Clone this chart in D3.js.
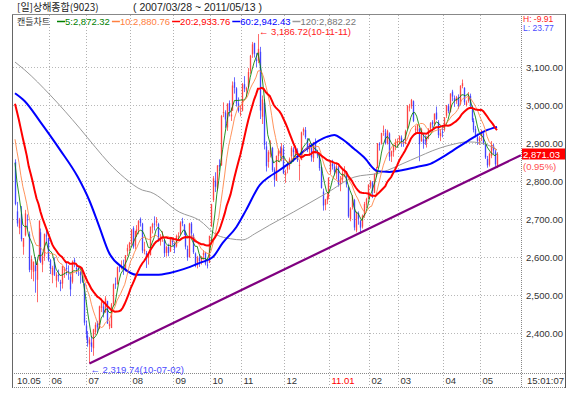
<!DOCTYPE html>
<html><head><meta charset="utf-8">
<script src="https://cdn.jsdelivr.net/npm/d3@7"></script>
<style>
body{margin:0;background:#fff}
svg{display:block}
text{font-family:"Liberation Sans",Arial,sans-serif}
.kr{font-family:"Noto Sans CJK KR","Liberation Sans",sans-serif}
</style>
</head><body>
<svg id="c" width="580" height="401"></svg>
<script>
// ---------- DATA (daily candles 2010-05-06 .. 2011-05-13) ----------
const open = [
2850,2720,2676,2714,2627,2657,2699,2660,2566,2561,2578,2540,2593,2665,2580,2602,2657,2650,
2592,2552,2587,2538,2553,2534,2530,2565,2571,2563,2548,2535,2592,2571,2570,2560,2553,2530,2420,
2393,2370,2375,2360,2402,2427,2412,2466,2470,2455,2484,2418,2413,2476,2530,2529,2575,2574,2575,2567,2615,2624,
2637,2676,2630,2666,2670,2700,2688,2615,2610,2598,2605,2678,2688,2690,2687,2640,2650,2645,2611,2626,2615,2647,
2635,2628,2655,2660,2694,2685,2665,2621,2600,2688,2657,2609,2580,2598,2590,2605,2610,2580,2585,
2680,2750,2801,2780,2842,2841,2979,2980,2941,3005,2970,2985,3060,3044,3004,2977,
2985,3055,3038,3047,3090,3133,3163,3120,3117,3140,2969,3006,2891,2850,2870,2887,2830,2800,2866,2878,2866,2885,
2815,2830,2840,2865,2883,2867,2880,2840,2855,2930,2934,2910,2882,2897,2860,2902,2876,2868,2836,2772,2737,2750,2757,
2825,2845,2838,2820,2835,2790,2804,2822,2825,2785,2700,2731,2750,2670,2715,2694,2680,2708,2738,2753,
2786,2796,2769,2815,2834,2897,2898,2929,2927,2899,2925,2865,2876,2890,2900,
2908,2914,2902,2897,2939,2995,2997,3010,2935,2930,2937,2905,2910,2909,2904,2915,2938,2955,2950,2980,2955,2918,2930,
2935,2972,2997,2982,3035,3018,3010,3021,3003,3050,3045,3000,3010,3024,2995,2958,2937,2915,2905,
2920,2925,2896,2858,2843,2866,2893,2878,2838];
const high = [
2857,2745,2703,2734,2650,2724,2712,2667,2604,2588,2600,2590,2696,2675,2612,2662,2672,2651,
2595,2577,2599,2560,2567,2540,2576,2574,2586,2578,2557,2591,2598,2583,2576,2563,2570,2531,2433,
2405,2389,2392,2411,2428,2432,2472,2491,2480,2497,2485,2433,2479,2530,2546,2575,2581,2591,2593,2605,2633,2640,
2673,2681,2669,2684,2697,2704,2690,2640,2616,2610,2680,2690,2707,2705,2690,2660,2668,2646,2630,2635,2653,2650,
2641,2659,2665,2694,2703,2687,2670,2630,2690,2692,2662,2612,2603,2607,2602,2618,2614,2590,2656,
2740,2813,2823,2842,2857,2974,3007,2986,3004,3012,2993,3062,3073,3047,3020,2999,
3058,3076,3048,3097,3132,3166,3164,3137,3186.72,3153,3025,3015,2904,2881,2907,2890,2836,2867,2885,2891,2900,2895,
2830,2850,2862,2892,2889,2893,2886,2856,2930,2941,2942,2913,2900,2900,2903,2912,2882,2870,2837,2780,2753,2770,2810,
2853,2856,2845,2847,2840,2813,2829,2839,2826,2786,2731,2763,2753,2720,2720,2698,2712,2745,2756,2791,
2802,2800,2820,2837,2900,2902,2927,2946,2937,2935,2928,2880,2893,2911,2912,
2920,2920,2910,2935,3000,3003,3016,3012,2945,2950,2940,2940,2925,2920,2918,2938,2955,2960,2978,2996,2960,2937,2947,
2968,3000,3003,3031,3040,3025,3024,3028,3052,3067,3047,3012,3034,3030,2998,2965,2945,2925,2918,
2935,2927,2898,2866,2875,2905,2898,2882,2876];
const low = [
2736,2680,2660,2641,2606,2654,2673,2560,2542,2536,2506,2481,2590,2584,2560,2590,2640,2588,
2555,2531,2550,2520,2535,2510,2517,2545,2552,2540,2497,2530,2573,2555,2550,2530,2532,2420,2385,
2364,2319.74,2350,2340,2395,2400,2410,2455,2441,2453,2424,2410,2413,2470,2516,2527,2560,2567,2553,2562,2602,2616,
2630,2622,2620,2653,2660,2680,2610,2607,2571,2580,2604,2662,2670,2680,2640,2630,2640,2600,2601,2602,2613,2630,
2610,2625,2645,2658,2681,2658,2620,2590,2598,2650,2608,2573,2570,2574,2580,2593,2578,2570,2584,
2680,2745,2771,2775,2826,2840,2968,2940,2932,2970,2958,2985,3030,2996,2980,2970,
2983,3034,3020,3045,3082,3124,3125,3100,3110,2963,2950,2883,2825,2835,2862,2824,2785,2800,2850,2860,2852,2818,
2795,2820,2830,2850,2850,2860,2850,2801,2855,2920,2910,2876,2866,2851,2850,2873,2860,2827,2780,2722,2723,2739,2752,
2818,2830,2815,2805,2785,2773,2796,2810,2783,2703,2694,2725,2670,2665,2685,2661,2675,2703,2729,2752,
2780,2755,2768,2810,2834,2880,2896,2919,2896,2896,2853,2850,2864,2881,2890,
2896,2890,2890,2897,2936,2983,2990,2955,2921,2925,2852,2903,2885,2895,2888,2910,2930,2940,2945,2960,2913,2905,2915,
2930,2966,2978,2980,3010,2995,3003,2990,3000,3044,3000,2996,3006,2993,2955,2928,2915,2895,2895,
2905,2895,2858,2835,2838,2860,2870,2838,2834];
const close = [
2739.7,2688.4,2698.7,2647.1,2650.0,2714.7,2696.6,2566.2,2594.2,2587.8,2563.0,2583.5,2695.7,2586.8,2602.0,2660.5,2655.8,2592.2,
2568.6,2571.4,2553.6,2553.6,2549.7,2528.9,2575.9,2568.7,2569.9,2559.4,2514.6,2588.0,2587.0,2568.3,2568.2,2552.8,2535.3,2427.1,2398.4,
2373.8,2382.9,2363.9,2409.4,2421.4,2415.0,2470.1,2480.2,2450.6,2490.9,2424.9,2424.3,2475.4,2528.2,2528.3,2573.0,2572.6,2576.6,2571.1,2604.8,2623.5,2637.5,
2672.5,2627.1,2668.3,2672.6,2694.3,2689.6,2616.9,2620.1,2595.3,2606.0,2679.8,2687.0,2687.7,2695.8,2642.3,2648.4,2654.5,2610.0,2626.2,2610.7,2652.0,2638.8,
2622.9,2655.5,2656.0,2690.6,2688.7,2667.0,2627.3,2598.7,2688.1,2662.0,2612.6,2578.7,2598.7,2589.5,2601.1,2610.8,2582.7,2578.6,2655.7,
2738.7,2806.9,2784.9,2840.6,2838.1,2971.2,2981.5,2962.0,3003.9,2984.6,2975.0,3051.4,3045.1,3003.9,2984.5,2978.8,
3054.0,3043.1,3044.8,3086.9,3129.6,3159.5,3135.2,3115.4,3147.7,2985.4,3014.4,2894.5,2838.9,2875.9,2888.6,2828.6,2803.5,2866.0,2880.6,2871.8,2887.5,2820.2,
2823.0,2843.2,2857.2,2887.0,2875.9,2878.5,2854.5,2842.4,2928.0,2936.7,2915.0,2883.6,2897.0,2862.7,2902.2,2877.2,2867.5,2834.0,2781.5,2735.5,2751.1,2759.7,2808.1,
2852.6,2838.6,2824.2,2838.8,2791.8,2804.1,2821.3,2827.7,2791.3,2706.7,2728.0,2756.9,2677.7,2715.3,2700.6,2677.4,2708.8,2739.2,2752.8,2790.7,
2798.9,2774.1,2818.2,2827.3,2899.2,2896.3,2926.3,2932.7,2899.2,2932.3,2863.8,2878.3,2890.0,2900.5,2905.0,
2918.1,2900.1,2900.0,2930.8,2997.0,2996.1,3013.4,2958.2,2937.6,2948.2,2896.7,2936.3,2898.1,2905.1,2914.0,2938.0,2952.0,2949.0,2977.0,2963.4,2920.9,2926.0,2928.1,
2967.4,2999.0,2984.4,3030.0,3022.1,3011.5,3020.2,2996.0,3050.5,3057.3,3007.1,3007.0,3026.2,2999.5,2960.0,2935.0,2920.0,2905.9,2911.5,
2932.2,2899.2,2862.0,2841.1,2871.6,2895.0,2880.0,2844.0,2871.03];
// closes of the 19 sessions before the first visible candle (seed for short MAs)
const priorCloses = [3110,3130,3131,3128,3162,3166,3130,2980,2999,3033,3009,2983,2999,2937,2933,2935,2871,2835,2857];

// long moving averages (candle index -> value)
const ma60Idx = [0,5,13,23,32,38,43,48,55,62,72,79,86,94,101,106,113,118,125,130,134,142,150,159,163,167,173,178,185,191,198,205,212,218,224,231,240,246];
const ma60Val = [3031,3010,2955,2882,2811,2748,2680,2611,2572,2553,2553,2558,2568,2584,2600,2637,2679,2724,2790,2812,2825,2855,2889,2916,2921,2910,2885,2863,2826,2824,2829,2837,2845,2862,2882,2905,2932,2942.43];
const ma120Idx = [0,5,18,33,41,48,56,65,69,84,94,103,110,116,123,130,142,159,173,186,202,217,224,231,238,246];
const ma120Val = [3113,3092,3026,2939,2889,2847,2808,2776,2771,2718,2697,2658,2648,2645,2663,2684,2718,2768,2810,2821,2855,2887,2897,2903,2900,2882.22];

const monthLabels = ["10.05","06","07","08","09","10","11","12","11.01","02","03","04","05"];
const monthDays = [18,19,22,22,19,16,22,23,20,15,23,19,9];
const priceTicks = [2400,2500,2600,2700,2800,2900,3000,3100];
const maPeriods = ["5","10","20","60","120"];
const maLegendValues = ["2,872.32","2,880.76","2,933.76","2,942.43","2,882.22"];
const maColors = ["#008000","#ff8040","#ff0000","#0000ff","#999999"];
const trendIdx = [38, 258.2];
const trendVal = [2319.74, 2868];
const titleText = "[일]상해종합(9023)";
const rangeText = "( 2007/03/28 ~ 2011/05/13 )";
const highText = "← 3,186.72(10-11-11)";
const lowText = "← 2,319.74(10-07-02)";
const hlTexts = ["H: -9.91","L: 23.77"];
const lastPrice = "2,871.03", lastChange = "(0.95%)", timeText = "15:01:07";

// ---------- LAYOUT ----------
const L = 13, R = 521, T = 15, B = 373, FR = 565, FB = 387;
const N = close.length;
const svg = d3.select("#c");
svg.append("rect").attr("width",580).attr("height",401).attr("fill","#fff");

const x = d3.scaleLinear().domain([0, N-1]).range([15, 497]);
const y = d3.scaleLinear().domain([2400, 3100]).range([333, 67]);

svg.append("clipPath").attr("id","plot").append("rect")
  .attr("x",L).attr("y",T).attr("width",R-L).attr("height",B-T);

// horizontal grid
svg.append("g").selectAll("line").data(priceTicks).join("line")
  .attr("x1",L).attr("x2",R).attr("y1",d=>Math.round(y(d))+0.5).attr("y2",d=>Math.round(y(d))+0.5)
  .attr("stroke","#b8b8b8").attr("stroke-dasharray","1,2");

// month separators
const starts = [];
let acc = 0;
monthDays.forEach(d=>{starts.push(acc); acc+=d;});
const sepX = starts.map(s=>Math.round(x(s)-1)+0.5);
svg.append("g").selectAll("line").data(sepX.slice(1)).join("line")
  .attr("x1",d=>d).attr("x2",d=>d).attr("y1",T).attr("y2",FB)
  .attr("stroke","#b0b0b0").attr("stroke-dasharray","1,2");

// axis row + price axis frame
svg.append("line").attr("x1",12).attr("x2",FR).attr("y1",B+0.5).attr("y2",B+0.5)
  .attr("stroke","#888").attr("stroke-dasharray","1,1");
svg.append("line").attr("x1",R+0.5).attr("x2",R+0.5).attr("y1",14).attr("y2",FB)
  .attr("stroke","#888").attr("stroke-dasharray","1,1");
svg.append("line").attr("x1",12).attr("x2",FR).attr("y1",FB+0.5).attr("y2",FB+0.5)
  .attr("stroke","#888").attr("stroke-dasharray","1,1");
svg.append("line").attr("x1",12.5).attr("x2",12.5).attr("y1",14).attr("y2",FB+1).attr("stroke","#666");
svg.append("line").attr("x1",12).attr("x2",FR+1).attr("y1",14.5).attr("y2",14.5).attr("stroke","#888");
svg.append("line").attr("x1",FR+0.5).attr("x2",FR+0.5).attr("y1",14).attr("y2",FB+1).attr("stroke","#555");

// candles
const cg = svg.append("g").attr("clip-path","url(#plot)");
const idx = d3.range(N);
const col = i => close[i] >= open[i] ? "#ff3a3a" : "#3a3aff";
cg.selectAll("line.w").data(idx).join("line").attr("class","w")
  .attr("x1",i=>Math.round(x(i))+0.5).attr("x2",i=>Math.round(x(i))+0.5)
  .attr("y1",i=>y(high[i])).attr("y2",i=>y(low[i]))
  .attr("stroke",col).attr("stroke-width",1).attr("opacity",0.75);
cg.selectAll("rect.b").data(idx).join("rect").attr("class","b")
  .attr("x",i=>Math.round(x(i))-0.2).attr("width",1.4)
  .attr("y",i=>y(Math.max(open[i],close[i])))
  .attr("height",i=>Math.max(1, Math.abs(y(open[i])-y(close[i]))))
  .attr("fill",col).attr("opacity",0.8);

// moving averages
const all = priorCloses.concat(close);
const P = priorCloses.length;
function sma(n){ return idx.map(i=>d3.mean(all.slice(i+P-n+1, i+P+1))); }
const lineGen = d3.line().x(d=>x(d[0])).y(d=>y(d[1]));
const curveGen = d3.line().x(d=>x(d[0])).y(d=>y(d[1])).curve(d3.curveMonotoneX);
const mg = svg.append("g").attr("clip-path","url(#plot)").attr("fill","none");
mg.append("path").attr("d",curveGen(ma120Idx.map((k,j)=>[k,ma120Val[j]]))).attr("stroke",maColors[4]).attr("stroke-width",1);
mg.append("path").attr("d",curveGen(ma60Idx.map((k,j)=>[k,ma60Val[j]]))).attr("stroke",maColors[3]).attr("stroke-width",2);
[[5,0,1],[10,1,1]].forEach(([n,c,w])=>{
  mg.append("path").attr("d",lineGen(sma(n).map((v,i)=>[i,v]))).attr("stroke",maColors[c]).attr("stroke-width",w).attr("opacity",0.85);
});
mg.append("path").attr("d",lineGen(sma(20).map((v,i)=>[i,v]))).attr("stroke",maColors[2]).attr("stroke-width",2);

// trend line
svg.append("line").attr("x1",x(trendIdx[0])).attr("y1",y(trendVal[0]))
  .attr("x2",x(trendIdx[1])).attr("y2",y(trendVal[1]))
  .attr("stroke","#800080").attr("stroke-width",2.2);

// price axis labels
const fmt = d3.format(",.2f");
svg.append("g").selectAll("text").data(priceTicks).join("text")
  .attr("x",526).attr("y",d=>y(d)+3.5).attr("font-size",9.5).attr("fill","#333").text(d=>fmt(d));

// current price box
const lastI = N-1;
const yl = y(close[lastI]);
svg.append("rect").attr("x",R+1).attr("y",yl-5.5).attr("width",FR-R-1).attr("height",11).attr("fill","#ff0000");
svg.append("text").attr("x",523).attr("y",yl+3.5).attr("font-size",9.5).attr("fill","#fff").text(lastPrice);
svg.append("text").attr("x",523).attr("y",yl+16).attr("font-size",9.5).attr("fill","#ff5050").text(lastChange);

// bottom axis labels
svg.append("g").selectAll("text").data(monthLabels).join("text")
  .attr("x",(d,k)=> k===0 ? 17 : sepX[k]+2).attr("y",384).attr("font-size",9.5)
  .attr("fill",d=>d.indexOf(".")>0 && d!=="10.05" ? "#ff0000" : "#333").text(d=>d);
svg.append("text").attr("x",527).attr("y",384).attr("font-size",9.5).attr("fill","#333").text(timeText);

// high / low annotations
const hi = d3.maxIndex(high), lo = d3.minIndex(low);
svg.append("text").attr("x",x(hi)+1).attr("y",y(high[hi])+0.5).attr("font-size",9.5).attr("fill","#ff2020").text(highText);
svg.append("text").attr("x",x(lo)+1).attr("y",y(low[lo])+10).attr("font-size",9.5).attr("fill","#4a4aff").text(lowText);

// title
svg.append("text").attr("class","kr").attr("x",17).attr("y",11).attr("font-size",10).attr("fill","#222").text(titleText);
svg.append("text").attr("x",133).attr("y",11).attr("font-size",10.5).attr("fill","#222").text(rangeText);

// legend
svg.append("text").attr("class","kr").attr("x",17).attr("y",25).attr("font-size",9).attr("fill","#333").text("캔들차트");
let lx = 57;
maPeriods.forEach((p,k)=>{
  svg.append("line").attr("x1",lx).attr("x2",lx+8).attr("y1",21.5).attr("y2",21.5).attr("stroke",maColors[k]).attr("stroke-width",1.5);
  const t = svg.append("text").attr("x",lx+8).attr("y",25).attr("font-size",9.5).attr("fill",maColors[k]==="#999999"?"#777":maColors[k]).text(p+":"+maLegendValues[k]);
  lx += 8 + t.node().getComputedTextLength() + 2;
});

// H / L
svg.append("text").attr("x",523).attr("y",22).attr("font-size",8.5).attr("fill","#ff2020").text(hlTexts[0]);
svg.append("text").attr("x",523).attr("y",30.5).attr("font-size",8.5).attr("fill","#4a4aff").text(hlTexts[1]);
</script>
</body></html>
